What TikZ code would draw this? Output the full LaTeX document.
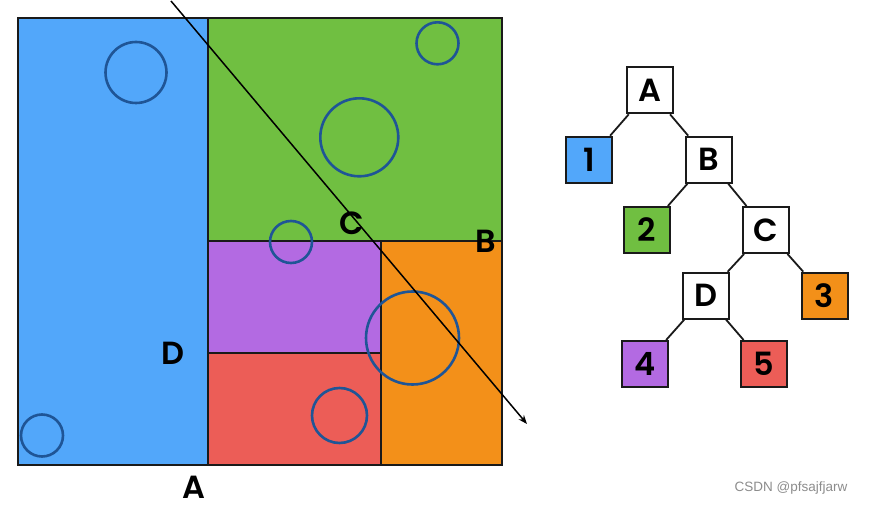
\documentclass[tikz,border=0pt]{standalone}
\usepackage{fontspec}
\setmainfont{Poppins SemiBold}
\newfontfamily\wmfont{Liberation Sans}
\usetikzlibrary{arrows.meta}
\definecolor{cblue}{HTML}{52A7FA}
\definecolor{cgreen}{HTML}{70BF41}
\definecolor{cpurple}{HTML}{B36AE2}
\definecolor{cred}{HTML}{EC5D57}
\definecolor{corange}{HTML}{F39019}
\definecolor{ccirc}{HTML}{1F5596}
\definecolor{cedge}{HTML}{1A1A1A}
\tikzset{
  region/.style={draw=cedge, line width=2pt},
  ring/.style={draw=ccirc, line width=2.6pt},
  lbl/.style={font=\fontsize{32}{34}\selectfont, inner sep=0pt},
  tbox/.style={draw=cedge, line width=2pt, minimum size=46pt, inner sep=0pt, font=\fontsize{32}{34}\selectfont},
  tedge/.style={draw=cedge, line width=1.8pt},
}
\begin{document}
\begin{tikzpicture}[x=1pt,y=-1pt]
\useasboundingbox (0,0) rectangle (870,505);
% regions
\fill[cblue] (18,18) rectangle (208,465);
\fill[cgreen] (208,18) rectangle (502,241);
\fill[cpurple] (208,241) rectangle (381,353);
\fill[cred] (208,353) rectangle (381,465);
\fill[corange] (381,241) rectangle (502,465);
\draw[region] (208,18) -- (208,465);
\draw[region] (208,241) -- (502,241);
\draw[region] (381,241) -- (381,465);
\draw[region] (208,353) -- (381,353);
\draw[region] (18,18) rectangle (502,465);
% circles
\draw[ring] (136,72.5) circle[radius=30.5];
\draw[ring] (437.5,43.3) circle[radius=21];
\draw[ring] (359.3,137.3) circle[radius=39];
\draw[ring] (291,242) circle[radius=21];
\draw[ring] (412.5,338) circle[radius=46.5];
\draw[ring] (339.5,415.5) circle[radius=27.5];
\draw[ring] (42,435.5) circle[radius=21];
% cut line
\coordinate (ls) at (171,1);
\coordinate (le) at (527,424);
\draw[line width=1.5pt, -{Stealth[length=9pt,width=7pt]}] (ls) -- (le);
% labels
\node[lbl] (lC) at (351.5,223) {C};
\node[lbl] (lB) at (486,241) {B};
\node[lbl] (lD) at (173,353) {D};
\node[lbl] (lA) at (194,487) {A};
% tree
\node[tbox, fill=white] (tA) at (649.7,90.3) {A};
\node[tbox, fill=cblue] (t1) at (589.2,159.7) {1};
\node[tbox, fill=white] (tB) at (708.5,159.7) {B};
\node[tbox, fill=cgreen] (t2) at (646.8,230) {2};
\node[tbox, fill=white] (tC) at (766.2,230) {C};
\node[tbox, fill=white] (tD) at (705.5,295.7) {D};
\node[tbox, fill=corange] (t3) at (824.5,295.7) {3};
\node[tbox, fill=cpurple] (t4) at (644.8,364) {4};
\node[tbox, fill=cred] (t5) at (764.2,364) {5};
\draw[tedge] (tA) -- (t1);
\draw[tedge] (tA) -- (tB);
\draw[tedge] (tB) -- (t2);
\draw[tedge] (tB) -- (tC);
\draw[tedge] (tC) -- (tD);
\draw[tedge] (tC) -- (t3);
\draw[tedge] (tD) -- (t4);
\draw[tedge] (tD) -- (t5);
% watermark
\node[font=\wmfont\fontsize{13.5}{15}\selectfont, text=black!45, inner sep=0pt] (wm) at (791,488) {CSDN @pfsajfjarw};
\end{tikzpicture}
\end{document}
